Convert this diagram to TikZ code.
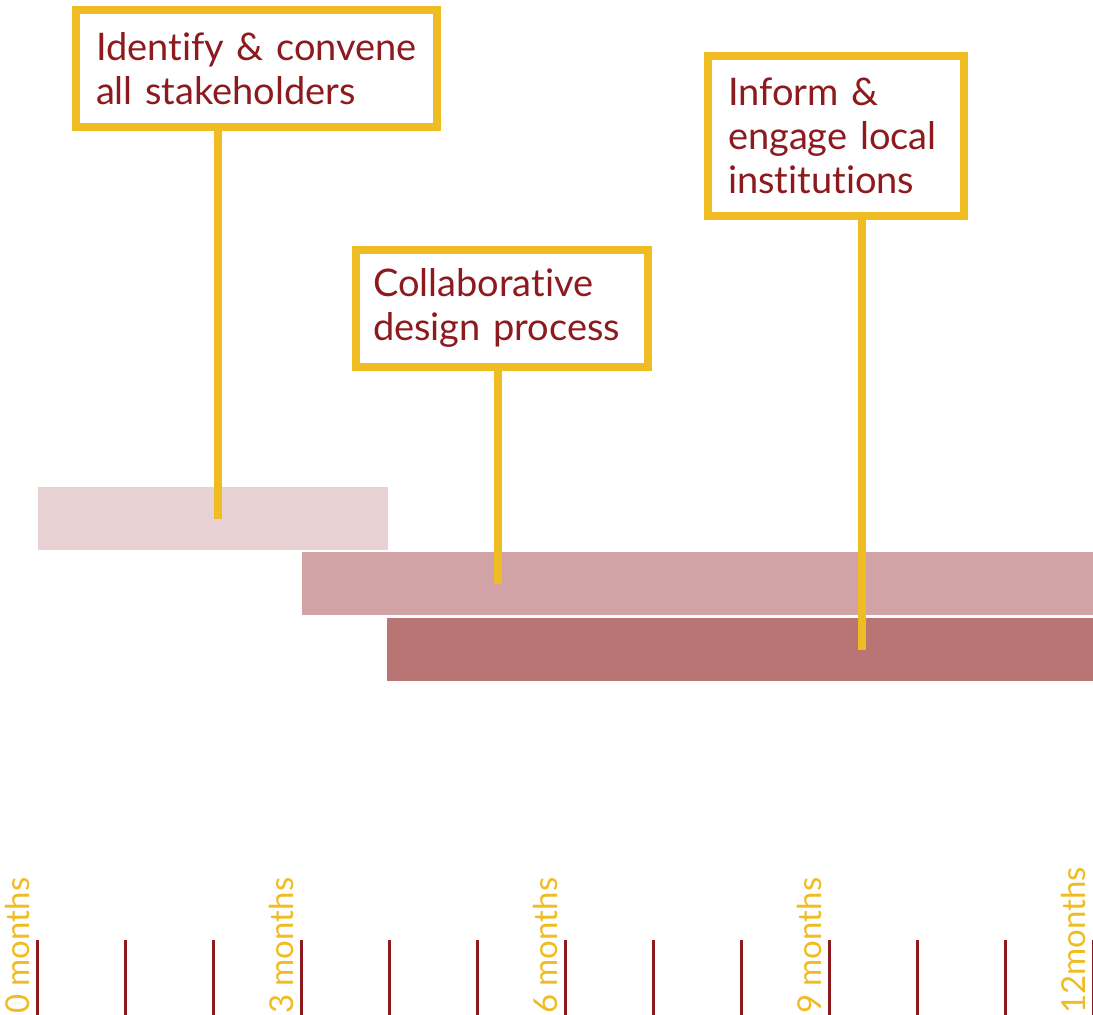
\documentclass[tikz,border=0pt]{standalone}
\usepackage{fontspec}
\setmainfont[Ligatures=NoCommon]{Lato}
\definecolor{gold}{HTML}{F0BC24}
\definecolor{wine}{HTML}{8C1A1E}
\definecolor{barA}{HTML}{E7D1D3}
\definecolor{barB}{HTML}{D1A3A5}
\definecolor{barC}{HTML}{B87574}

\begin{document}
\begin{tikzpicture}[x=1pt, y=-1pt,
	stage box/.style={draw=gold, line width=8pt, fill=white, text=wine, align=left, inner xsep=20pt, inner ysep=0pt, font=\fontsize{38}{44}\selectfont},
	bar/.style={inner sep=0pt, minimum height=63pt},
	link/.style={draw=gold, line width=8pt},
	tick/.style={draw=wine, line width=3pt},
	month/.style={rotate=90, anchor=base west, text=gold, inner sep=0pt, font=\fontsize{33}{33}\selectfont}]
	\useasboundingbox (0,0) rectangle (1093,1015);

	\node[stage box, text width=321pt, minimum height=117pt] (box1) at (256.5,68.5) {Identify~\&~convene\\all~stakeholders};
	\node[stage box, inner xsep=17.5pt, text width=257.5pt, minimum height=116.5pt] (box2) at (501.75,308.25) {Collaborative\\design~process};
	\node[stage box, text width=216pt, minimum height=160pt] (box3) at (836,136) {Inform~\&\\engage~local\\institutions};

	\node[bar, fill=barA, minimum width=350pt] (bar1) at (213,518.5) {};
	\node[bar, fill=barB, minimum width=791pt] (bar2) at (697.5,583.5) {};
	\node[bar, fill=barC, minimum width=706pt] (bar3) at (740,649.5) {};

	\path (box1.south) ++(-38.5,0) coordinate (t1);
	\path (box2.south) ++(-3.75,0) coordinate (t2);
	\path (box3.south) ++(26,0) coordinate (t3);
	\draw[link] (t1) -- (t1 |- bar1);
	\draw[link] (t2) -- (t2 |- bar2);
	\draw[link] (t3) -- (t3 |- bar3);

	\foreach \i in {0,...,12}
		\draw[tick] (37+88*\i,940) -- (37+88*\i,1015);
	\foreach \i/\t in {0/0 months, 3/3 months, 6/6 months, 9/9 months, 12/12months}
		\node[month] (m\i) at (29+88*\i,1014) {\t};
\end{tikzpicture}
\end{document}
